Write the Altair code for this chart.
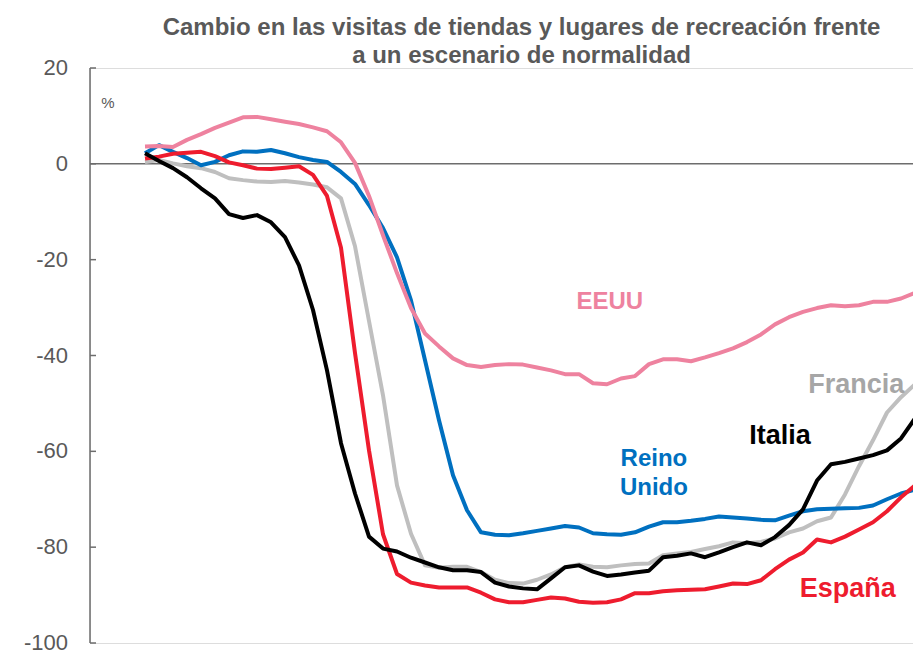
import altair as alt
import pandas as pd

# ---- data (x = day index, y = % change) ----
days = [0, 2, 4, 6, 8, 10, 12, 14, 16, 18, 20, 22, 24, 26, 28, 30, 32, 34, 36, 38,
        40, 42, 44, 46, 48, 50, 52, 54, 56, 58, 60, 62, 64, 66, 68, 70, 72, 74, 76, 78,
        80, 82, 84, 86, 88, 90, 92, 94, 96, 98, 100, 102, 104, 106, 108, 110, 112]

eeuu = [3.6, 3.7, 3.5, 5.0, 6.2, 7.5, 8.6, 9.7, 9.8, 9.3, 8.8, 8.3, 7.6, 6.8, 4.5, 0.2,
        -6.7, -14.9, -22.8, -30.1, -35.4, -38.1, -40.6, -42.0, -42.4, -42.0, -41.8, -41.9,
        -42.5, -43.1, -43.9, -43.9, -45.8, -46.0, -44.8, -44.3, -41.8, -40.8, -40.8, -41.2,
        -40.4, -39.5, -38.5, -37.2, -35.6, -33.5, -32.0, -30.9, -30.1, -29.5, -29.7, -29.5,
        -28.8, -28.8, -28.1, -26.9, -26.0]

reino_unido = [2.2, 3.9, 2.5, 1.2, -0.3, 0.4, 1.8, 2.6, 2.5, 2.9, 2.2, 1.4, 0.8, 0.4,
               -1.7, -4.2, -8.6, -13.4, -19.5, -28.5, -41.0, -53.5, -65.0, -72.3, -76.9,
               -77.4, -77.5, -77.1, -76.6, -76.1, -75.6, -75.9, -77.1, -77.3, -77.4, -76.9,
               -75.7, -74.8, -74.8, -74.5, -74.1, -73.6, -73.8, -74.0, -74.3, -74.4, -73.4,
               -72.5, -72.1, -72.0, -71.9, -71.8, -71.3, -70.0, -68.8, -68.0, -67.1]

espana = [1.1, 1.5, 2.1, 2.3, 2.5, 1.6, 0.3, -0.3, -1.0, -1.1, -0.8, -0.5, -2.3, -6.7,
          -17.5, -39.5, -59.8, -77.3, -85.6, -87.4, -88.0, -88.4, -88.4, -88.4, -89.5,
          -90.9, -91.5, -91.5, -91.0, -90.5, -90.7, -91.4, -91.6, -91.5, -90.9, -89.6,
          -89.6, -89.2, -89.0, -88.9, -88.8, -88.2, -87.6, -87.7, -86.9, -84.6, -82.6,
          -81.1, -78.4, -79.0, -77.8, -76.3, -74.8, -72.5, -69.6, -67.1, -64.8]

francia = [0.4, 0.8, 0.1, -0.5, -0.9, -1.7, -3.0, -3.4, -3.7, -3.8, -3.6, -3.9, -4.3,
           -4.9, -7.2, -17.2, -32.8, -48.3, -67.1, -77.2, -83.8, -84.3, -84.1, -84.1,
           -85.2, -86.8, -87.5, -87.6, -86.8, -85.7, -84.2, -83.6, -84.1, -84.2, -83.8,
           -83.5, -83.4, -81.7, -81.3, -81.0, -80.4, -79.8, -79.0, -79.2, -78.9, -78.2,
           -76.9, -76.1, -74.6, -73.8, -69.0, -63.1, -57.7, -51.9, -48.7, -46.0, -43.5]

italia = [2.2, 0.6, -0.9, -2.8, -5.1, -7.2, -10.5, -11.3, -10.7, -12.2, -15.3, -21.2,
          -30.5, -43.1, -58.3, -68.8, -77.8, -80.3, -80.9, -82.2, -83.2, -84.2, -84.8,
          -84.8, -85.2, -87.4, -88.2, -88.6, -88.8, -86.5, -84.2, -83.8, -85.1, -86.0,
          -85.7, -85.3, -84.9, -82.1, -81.8, -81.3, -82.1, -81.1, -80.0, -79.0, -79.6,
          -77.9, -75.4, -72.1, -66.1, -62.7, -62.2, -61.5, -60.8, -59.8, -57.3, -53.1,
          -48.5]

# drawing order (bottom -> top) and colours
series_names = ["Francia", "Reino Unido", "España", "Italia", "EEUU"]
series_values = [francia, reino_unido, espana, italia, eeuu]
line_colors = ["#bfbfbf", "#0070c0", "#ee1c2e", "#000000", "#ee829f"]

# direct labels (anchored in data units)
label_text = ["EEUU", "Francia", "Italia", "Reino", "Unido", "España"]
label_day = [66.4, 101.6, 90.7, 72.7, 72.7, 100.4]
label_val = [-28.9, -46.2, -56.9, -61.7, -67.7, -88.8]
label_color = ["#ee829f", "#a6a6a6", "#000000", "#0070c0", "#0070c0", "#ee1c2e"]
label_size = [24, 27, 27, 24, 24, 27]

# unit label
unit_text = ["%"]
unit_val = [12.7]

y_ticks = [20, 0, -20, -40, -60, -80, -100]
y_tick_labels = ["20", "0", "-20", "-40", "-60", "-80", "-100"]

title_lines = ["Cambio en las visitas de tiendas y lugares de recreación frente",
               "a un escenario de normalidad"]

FONT = "Liberation Sans"
AXIS_GREY = "#6d6d6d"
TEXT_GREY = "#595959"

xscale = alt.Scale(domain=[-7.857, 109.714], nice=False, zero=False)
yscale = alt.Scale(domain=[-100, 20], nice=False, zero=False)

layers = []
for name, vals, col in zip(series_names, series_values, line_colors):
    df = pd.DataFrame({"day": days, "v": vals, "pais": name})
    layers.append(
        alt.Chart(df).mark_line(color=col, strokeWidth=4, clip=True,
                                strokeJoin="round", strokeCap="butt").encode(
            x=alt.X("day:Q", scale=xscale, axis=None),
            y=alt.Y("v:Q", scale=yscale, axis=None),
        )
    )

# zero line
zero_df = pd.DataFrame({"v": [0]})
zero_layer = alt.Chart(zero_df).mark_rule(color=AXIS_GREY, strokeWidth=1.5).encode(
    y=alt.Y("v:Q", scale=yscale, axis=None)
)

# vertical axis line spanning the tick range
axis_df = pd.DataFrame({"top": [y_ticks[0]], "bottom": [y_ticks[-1]]})
axis_layer = alt.Chart(axis_df).mark_rule(color=AXIS_GREY, strokeWidth=1.5).encode(
    y=alt.Y("top:Q", scale=yscale, axis=None),
    y2="bottom:Q",
    x=alt.value(0),
)

# inward tick marks and tick labels
tick_df = pd.DataFrame({"v": y_ticks, "t": y_tick_labels})
tick_layer = alt.Chart(tick_df).mark_rule(color=AXIS_GREY, strokeWidth=1.5).encode(
    y=alt.Y("v:Q", scale=yscale, axis=None),
    x=alt.value(0), x2=alt.value(6)
)
tick_label_layer = alt.Chart(tick_df).mark_text(
    font=FONT, fontSize=22, color=TEXT_GREY, align="right", baseline="middle"
).encode(
    y=alt.Y("v:Q", scale=yscale, axis=None),
    x=alt.value(-22),
    text="t:N",
)

unit_df = pd.DataFrame({"t": unit_text, "v": unit_val})
unit_layer = alt.Chart(unit_df).mark_text(font=FONT, fontSize=15, color=TEXT_GREY,
                                          align="center", baseline="middle").encode(
    y=alt.Y("v:Q", scale=yscale, axis=None),
    x=alt.value(18),
    text="t:N",
)

lab_df = pd.DataFrame({"t": label_text, "day": label_day, "v": label_val,
                       "c": label_color, "s": label_size})
label_layer = alt.Chart(lab_df).mark_text(font=FONT, fontWeight="bold",
                                          align="center", baseline="middle").encode(
    x=alt.X("day:Q", scale=xscale, axis=None),
    y=alt.Y("v:Q", scale=yscale, axis=None),
    text="t:N",
    color=alt.Color("c:N", scale=None),
    size=alt.Size("s:Q", scale=None),
)

chart = alt.layer(zero_layer, axis_layer, tick_layer, *layers, tick_label_layer,
                  unit_layer, label_layer).properties(
    width=823, height=575,
    autosize=alt.AutoSizeParams(type="none"),
    padding={"left": 82, "top": 60, "right": 0, "bottom": 13},
    title=alt.TitleParams(text=title_lines, font=FONT, fontSize=24,
                          fontWeight="bold", color=TEXT_GREY, anchor="middle",
                          dx=20, dy=11, offset=0, lineHeight=28),
).configure_view(strokeWidth=0).configure(background="white")

chart.save("out.html", embed_options={"renderer": "svg", "actions": False})
